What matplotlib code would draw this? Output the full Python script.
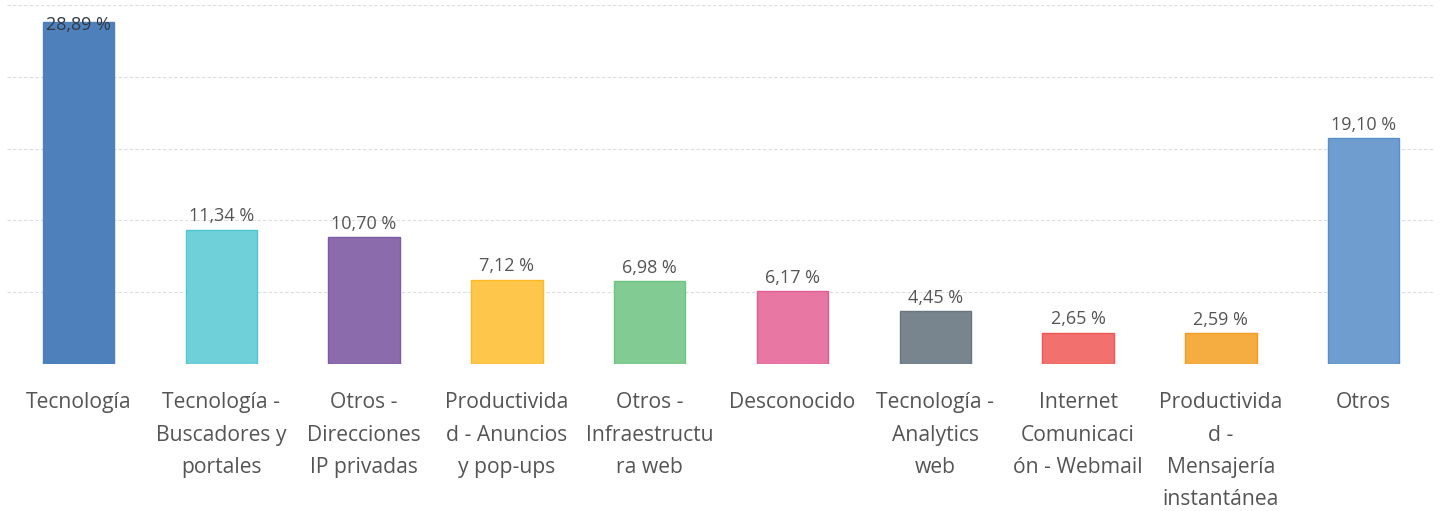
import matplotlib
matplotlib.use("Agg")
import matplotlib.pyplot as plt
import numpy as np

categories = [
    "Tecnología",
    "Tecnología -\nBuscadores y\nportales",
    "Otros -\nDirecciones\nIP privadas",
    "Productivida\nd - Anuncios\ny pop-ups",
    "Otros -\nInfraestructu\nra web",
    "Desconocido",
    "Tecnología -\nAnalytics\nweb",
    "Internet\nComunicaci\nón - Webmail",
    "Productivida\nd -\nMensajería\ninstantánea",
    "Otros",
]
values = [28.89, 11.34, 10.70, 7.12, 6.98, 6.17, 4.45, 2.65, 2.59, 19.10]
value_labels = ["28,89 %", "11,34 %", "10,70 %", "7,12 %", "6,98 %",
                "6,17 %", "4,45 %", "2,65 %", "2,59 %", "19,10 %"]
fill_colors = ["#4e80bc", "#6fd0d9", "#8c6bad", "#ffc64c", "#82cb93",
               "#e877a4", "#78848e", "#f2716e", "#f5ac41", "#6f9dd0"]
edge_colors = ["#4e80bc", "#4fc6d1", "#7d5aa3", "#ffb820", "#6cc480",
               "#e25c91", "#6a767f", "#ee5553", "#f39c1e", "#5b8fca"]

plt.rcParams['font.family'] = ['Open Sans', 'DejaVu Sans']

fig = plt.figure(figsize=(14.4, 5.11), dpi=100)
ax = fig.add_axes([7/1440, (511-364)/511, 1428/1440, 359/511])

x = np.arange(len(categories))
ax.bar(x, values, width=0.5, color=fill_colors, edgecolor=edge_colors, linewidth=1, zorder=2)

ymax = 30.3
ax.set_ylim(0, ymax)
ax.set_xlim(-0.5, len(categories) - 0.5)
ax.set_yticks(np.linspace(0, ymax, 6))
ax.yaxis.grid(True, color="#dddddd", linestyle=(0, (3, 2)), linewidth=0.8, zorder=0)
ax.set_yticklabels([])
ax.tick_params(axis='y', length=0)
ax.tick_params(axis='x', length=0, pad=20.5)
ax.set_xticks(x)
ax.set_xticklabels(categories, fontsize=15.2, color="#555555", linespacing=1.7)
for s in ax.spines.values():
    s.set_visible(False)

for xi, v, lab in zip(x, values, value_labels):
    if v > ymax - 1.75:
        ax.annotate(lab, (xi, ymax), xytext=(0, -8), textcoords="offset points",
                    ha="center", va="top", fontsize=13, color="#333a44", zorder=3)
    else:
        ax.annotate(lab, (xi, v), xytext=(0, 3), textcoords="offset points",
                    ha="center", va="bottom", fontsize=13, color="#555555", zorder=3)

fig.savefig("out.png", dpi=100)
